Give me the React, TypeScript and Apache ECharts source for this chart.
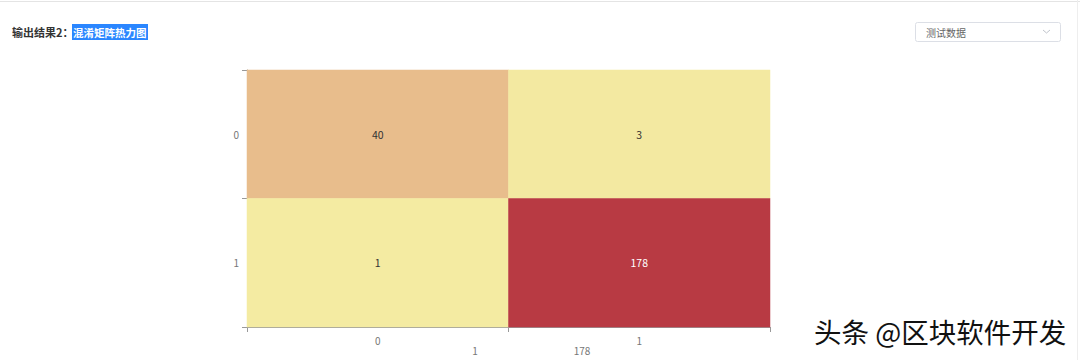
import React, { useEffect, useRef } from "react";
import * as echarts from "echarts";

const xCategories = ["0", "1"];
const yCategories = ["0", "1"];
// [xIndex, yIndex, value]
const cellValues: [number, number, number][] = [
  [0, 0, 40],
  [1, 0, 3],
  [0, 1, 1],
  [1, 1, 178],
];
const rangeMin = 1;
const rangeMax = 178;
const mapColors = ["#f4eba2", "#d8826f", "#b83a43"];

export default function App() {
  const ref = useRef<HTMLDivElement>(null);
  useEffect(() => {
    if (!ref.current) return;
    const chart = echarts.init(ref.current, undefined, { renderer: "svg" });
    const font = "'Noto Sans CJK SC', 'Noto Sans', sans-serif";
    chart.setOption({
      animation: false,
      backgroundColor: "#ffffff",
      textStyle: { fontFamily: font },
      grid: { left: 247, right: 310, top: 70, bottom: 33 },
      xAxis: {
        type: "category",
        data: xCategories,
        axisLine: { show: true, lineStyle: { color: "#999" } },
        axisTick: { show: true, length: 5, lineStyle: { color: "#999" } },
        axisLabel: { color: "#777", fontSize: 10, margin: 8 },
        splitArea: { show: false },
      },
      yAxis: {
        type: "category",
        data: yCategories,
        inverse: true,
        axisLine: { show: true, lineStyle: { color: "#999" } },
        axisTick: { show: true, length: 5, lineStyle: { color: "#999" } },
        axisLabel: { color: "#777", fontSize: 10, margin: 8 },
      },
      visualMap: {
        show: false,
        min: rangeMin,
        max: rangeMax,
        inRange: { color: mapColors },
      },
      series: [
        {
          type: "heatmap",
          data: cellValues.map((d) => ({
            value: d,
            label: { color: d[2] > (rangeMin + rangeMax) / 2 ? "#fff" : "#333" },
          })),
          label: { show: true, fontSize: 10.5 },
        },
      ],
      graphic: [
        // page frame
        {
          type: "line",
          shape: { x1: 0, y1: 1.5, x2: 1080, y2: 1.5 },
          style: { stroke: "#e4e4e4", lineWidth: 1 },
        },
        {
          type: "line",
          shape: { x1: 1077.5, y1: 0, x2: 1077.5, y2: 360 },
          style: { stroke: "#eeeeee", lineWidth: 1 },
        },
        // title
        {
          type: "text",
          x: 12,
          y: 32,
          style: {
            text: "输出结果2：",
            fill: "#333",
            font: `bold 11px ${font}`,
            textVerticalAlign: "middle",
          },
        },
        {
          type: "rect",
          shape: { x: 72, y: 24, width: 76, height: 16 },
          style: { fill: "#2a86ff" },
        },
        {
          type: "text",
          x: 73,
          y: 32,
          style: {
            text: "混淆矩阵热力图",
            fill: "#ffffff",
            font: `bold 10.5px ${font}`,
            textVerticalAlign: "middle",
          },
        },
        // dropdown
        {
          type: "rect",
          shape: { x: 915.5, y: 22.5, width: 145, height: 19, r: 2 },
          style: { fill: "#fff", stroke: "#dcdfe6", lineWidth: 1 },
        },
        {
          type: "text",
          x: 926,
          y: 32,
          style: {
            text: "测试数据",
            fill: "#666",
            font: `10px ${font}`,
            textVerticalAlign: "middle",
          },
        },
        {
          type: "polyline",
          shape: { points: [[1043, 30], [1046.5, 33], [1050, 30]] },
          style: { stroke: "#c0c4cc", lineWidth: 1, fill: null },
        },
        // visual map end labels
        {
          type: "text",
          x: 475,
          y: 350,
          style: {
            text: String(rangeMin),
            fill: "#777",
            font: `10px ${font}`,
            textAlign: "center",
            textVerticalAlign: "middle",
          },
        },
        {
          type: "text",
          x: 582,
          y: 350,
          style: {
            text: String(rangeMax),
            fill: "#777",
            font: `10px ${font}`,
            textAlign: "center",
            textVerticalAlign: "middle",
          },
        },
        // watermark
        {
          type: "text",
          x: 814,
          y: 331,
          style: {
            text: "头条 @区块软件开发",
            fill: "#111",
            font: `27.5px ${font}`,
            textVerticalAlign: "middle",
            stroke: "#ffffff",
            lineWidth: 2,
          },
        },
      ],
    });
    return () => chart.dispose();
  }, []);
  return (
    <div
      ref={ref}
      style={{ position: "fixed", left: 0, top: 0, width: 1080, height: 360 }}
    />
  );
}
